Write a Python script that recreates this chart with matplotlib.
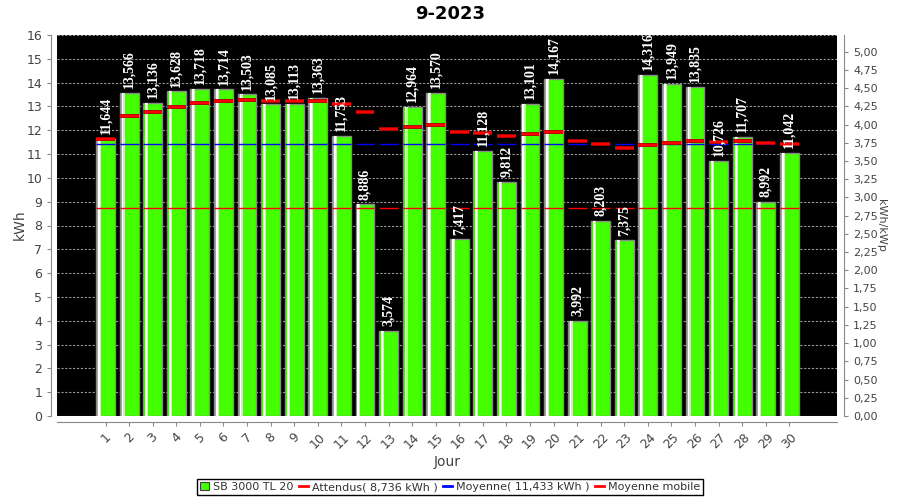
import matplotlib
matplotlib.use('Agg')
import matplotlib.pyplot as plt
import matplotlib.patheffects as pe
from matplotlib.patches import Patch
from matplotlib.lines import Line2D
from matplotlib.ticker import FuncFormatter, MultipleLocator
import numpy as np

# ---- data ----
title = "9-2023"
days = list(range(1, 31))
production = [11.644, 13.566, 13.136, 13.628, 13.718, 13.714, 13.503, 13.085, 13.113, 13.363,
              11.753, 8.886, 3.574, 12.964, 13.570, 7.417, 11.128, 9.812, 13.101, 14.167,
              3.992, 8.203, 7.375, 14.316, 13.949, 13.835, 10.726, 11.707, 8.992, 11.042]
moyenne_mobile = [11.644, 12.605, 12.782, 12.994, 13.138, 13.234, 13.273, 13.249, 13.234, 13.247,
                  13.111, 12.759, 12.053, 12.118, 12.214, 11.915, 11.868, 11.754, 11.825, 11.942,
                  11.564, 11.411, 11.235, 11.364, 11.467, 11.558, 11.527, 11.534, 11.446, 11.433]
attendus = 8.736
moyenne = 11.433
kwp = 3.06
series_labels = ["SB 3000 TL 20", "Attendus( 8,736 kWh )", "Moyenne( 11,433 kWh )", "Moyenne mobile"]

BAR_GREEN = '#44ff00'
GRAY = '#888888'
TXT = '#444444'

fig = plt.figure(figsize=(9, 5), dpi=100)
ax = fig.add_axes([57/900, 84/500, 780/900, 381/500])
ax.set_facecolor('black')

x = np.array(days, dtype=float)
bw = 0.8
ax.bar(x, production, width=bw, color=BAR_GREEN, edgecolor='#8a8a8a', linewidth=1.0, zorder=2)
# gradient-like highlight stripes
ax.bar(x - bw/2 + 0.08, production, width=0.08, color='white', linewidth=0, zorder=3, align='edge')
ax.bar(x - bw/2 + 0.16, production, width=0.05, color='#b8ff9a', linewidth=0, zorder=3, align='edge')

n = len(days)
ax.hlines([attendus]*n, x - bw/2, x + bw/2, color='red', lw=1.0, zorder=5)
ax.hlines([moyenne]*n, x - bw/2, x + bw/2, color='blue', lw=1.0, zorder=5)
ax.hlines(moyenne_mobile, x - bw/2, x + bw/2, color='red', lw=1.6, zorder=6,
          path_effects=[pe.Stroke(linewidth=2.8, foreground='#b00000'), pe.Normal()])

for xi, v in zip(x, production):
    ax.annotate(f"{v:.3f}".replace('.', ','), (xi, v), xytext=(0, 3.5), textcoords='offset points',
                rotation=90, ha='center', va='bottom', color='white', fontsize=10,
                fontweight='bold', family='Liberation Serif', zorder=8)

ax.set_xlim(-1.06, 32.02)
ax.set_ylim(0, 16)
ax.yaxis.set_major_locator(MultipleLocator(1))
ax.set_xticks(x)
ax.set_xticklabels([str(d) for d in days])
ax.set_axisbelow(True)
ax.grid(axis='y', color='#999999', linestyle=(0, (2, 1.5)), linewidth=0.8, zorder=0)

for s in ['top', 'right']:
    ax.spines[s].set_visible(False)
for s in ['left', 'bottom']:
    ax.spines[s].set_position(('outward', 4))
    ax.spines[s].set_color(GRAY)
ax.tick_params(colors=GRAY, labelcolor=TXT, labelsize=9, length=3)
ax.tick_params(axis='x', labelrotation=45)

ax2 = ax.twinx()
ax2.set_ylim(0, 16 / kwp)
ax2.yaxis.set_major_locator(MultipleLocator(0.25))
ax2.yaxis.set_major_formatter(FuncFormatter(lambda v, p: f"{v:.2f}".replace('.', ',')))
for s in ['top', 'left', 'bottom']:
    ax2.spines[s].set_visible(False)
ax2.spines['right'].set_position(('outward', 5))
ax2.spines['right'].set_color(GRAY)
ax2.tick_params(colors=GRAY, labelcolor=TXT, labelsize=8, length=3)

fig.text(450/900, 1 - 14/500, title, ha='center', va='center', fontsize=13, fontweight='bold', color='black')
fig.text(20/900, 1 - 225/500, 'kWh', rotation=90, ha='center', va='center', fontsize=10, color=TXT)
fig.text(447/900, 1 - 462/500, 'Jour', ha='center', va='center', fontsize=10, color=TXT)
fig.text(881/900, 1 - 225/500, 'kWh/kWp', rotation=270, ha='center', va='center', fontsize=8, color=TXT)

handles = [Patch(facecolor=BAR_GREEN, edgecolor='#404040', linewidth=0.8),
           Line2D([], [], color='red', lw=2),
           Line2D([], [], color='blue', lw=2),
           Line2D([], [], color='red', lw=2)]
leg = fig.legend(handles, series_labels, loc='center', bbox_to_anchor=(0.5, 1 - 487/500), ncol=4,
                 frameon=True, fancybox=False, edgecolor='black', fontsize=8,
                 handlelength=0.8, handleheight=0.8, handletextpad=0.35, columnspacing=0.5,
                 borderpad=0.3, borderaxespad=0.2, framealpha=1)
leg.get_frame().set_linewidth(1.0)
for t in leg.get_texts():
    t.set_color('#333333')

fig.savefig('out.png', dpi=100)
